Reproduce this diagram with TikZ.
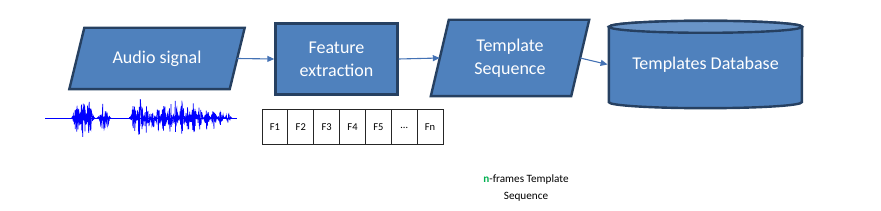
\documentclass[tikz,border=0pt]{standalone}
\usepackage{fontspec}
\setmainfont{Carlito}
\usepackage{xcolor}
\usepackage{tikz}
\usetikzlibrary{positioning, arrows.meta, backgrounds}
\definecolor{ShapeBlue}{RGB}{79,129,189}
\definecolor{EdgeNavy}{RGB}{38,64,97}
\definecolor{LinkBlue}{RGB}{68,114,180}
\definecolor{WaveBlue}{RGB}{0,0,255}
\definecolor{MarkGreen}{RGB}{0,176,80}

\begin{document}
\begin{tikzpicture}[x=1pt, y=1pt]
  \tikzset{
    lbl/.style={text=white, align=center, font=\fontsize{18}{23}\selectfont, inner sep=0pt},
    blk/.style={lbl, draw=EdgeNavy, fill=ShapeBlue, line width=2.4pt},
    outline/.style={draw=EdgeNavy, fill=ShapeBlue, line width=2.4pt, line join=miter},
    link/.style={draw=LinkBlue, line width=1.1pt, -{Triangle[length=7pt, width=6pt]}},
    cell/.style={draw=black!85, line width=1pt, minimum width=25.86pt, minimum height=35pt,
      inner sep=0pt, font=\fontsize{10.5}{12}\selectfont},
    wave/.style={draw=WaveBlue, line width=0.7pt}
  }
  \useasboundingbox (0,0) rectangle (881,211);

  % main chain
  \node[lbl, minimum width=160, minimum height=61] (audio) at (157,152.5) {Audio signal};
  \node[blk, minimum width=122, minimum height=71] (feat) at (336.5,152) {Feature\\extraction};
  \node[lbl, minimum width=140, minimum height=76] (tmpl) at (510,153) {Template\\Sequence};
  \node[lbl, minimum width=193, minimum height=87] (db) at (705.5,146.5) {Templates Database};

  \begin{pgfonlayer}{background}
    % slanted input/output boxes
    \foreach \nd/\s in {audio/7.5, tmpl/9}
      \filldraw[outline] ([xshift=\s]\nd.north west) -- ([xshift=\s]\nd.north east)
        -- ([xshift=-\s]\nd.south east) -- ([xshift=-\s]\nd.south west) -- cycle;
    % database cylinder
    \filldraw[outline] ([yshift=-6]db.north west) -- ([yshift=6]db.south west)
      arc[start angle=180, end angle=360, x radius=96.5, y radius=6]
      -- ([yshift=-6]db.north east)
      arc[start angle=0, end angle=180, x radius=96.5, y radius=6] -- cycle;
    \filldraw[outline, fill=ShapeBlue!85!white] ([yshift=-6]db.north) ellipse[x radius=96.5, y radius=6];
  \end{pgfonlayer}

  \draw[link] (audio.east) -- (feat.west);
  \draw[link] (feat.east) -- (tmpl.west);
  \draw[link] (tmpl.east) -- ([xshift=-1.2]db.west);

  % frames
  \foreach \txt [count=\i] in {F1,F2,F3,F4,F5,\dots,Fn}
    \node[cell] (f\i) at ({262+25.86*(\i-0.5)},83.5) {\txt};

  % speech waveform
  \pgfmathsetseed{11}
  \draw[wave] (45,93) -- (237,93);
  \foreach \c/\w/\a [evaluate=\w as \n using {int(18*\w)}] in
    {77/3/18, 83/3/20, 89/3/17, 103/3/15, 107/2/10, 134/2.5/14, 140/3/20, 147/2.5/16,
     153/2/12, 158/2/13, 164/2.5/15, 170/2/18, 176/2/20, 182/2/19, 188/2/17, 194/2/18,
     200/2/14, 207/2/12, 214/2/11, 221/2/8, 228/2/5}
    \draw[wave] plot[domain={\c-2*\w}:{\c+2*\w}, samples=\n]
      (\x,{93+\a*exp(-((\x-\c)/\w)^2)*rand});

  % caption
  \node[align=center, font=\fontsize{11.2}{17}\selectfont] (cap) at (526,23)
    {\textcolor{MarkGreen}{\textbf{n}}-frames Template\\Sequence};
\end{tikzpicture}
\end{document}
